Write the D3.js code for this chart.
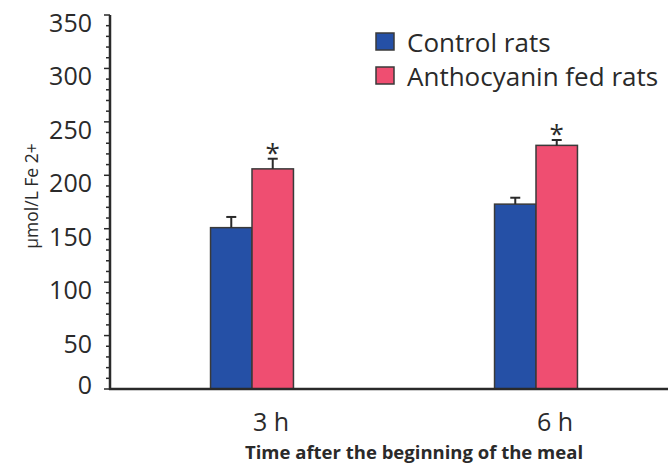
<!DOCTYPE html>
<html>
<head>
<meta charset="utf-8">
<script src="https://cdn.jsdelivr.net/npm/d3@7"></script>
<style>
  html, body { margin: 0; padding: 0; background: #fff; }
  svg { display: block; font-family: "Open Sans", sans-serif; }
</style>
</head>
<body>
<svg id="chart" width="668" height="465"></svg>
<script>
// ---- data ----
const categories = ["3 h", "6 h"];
const seriesNames = ["Control rats", "Anthocyanin fed rats"];
const controlValues = [151, 173];
const controlErrors = [10, 6];
const anthoValues = [206, 228];
const anthoErrors = [9.5, 5];
const yTicks = [0, 50, 100, 150, 200, 250, 300, 350];
const colors = ["#2550a6", "#ef4e71"];

const series = [
  { name: seriesNames[0], values: controlValues, errors: controlErrors, color: colors[0], star: [false, false] },
  { name: seriesNames[1], values: anthoValues, errors: anthoErrors, color: colors[1], star: [true, true] }
];

const svg = d3.select("#chart");
const ink = "#2a2a2a";

const y = d3.scaleLinear().domain([0, 350]).range([389, 15]);
const x0 = d3.scaleBand().domain(categories).range([110, 678]).paddingInner(0.708).paddingOuter(0.354);
const x1 = d3.scaleBand().domain(seriesNames).range([0, x0.bandwidth()]);

// bars
categories.forEach((cat, i) => {
  series.forEach(s => {
    const bx = x0(cat) + x1(s.name);
    const bw = x1.bandwidth();
    const v = s.values[i], e = s.errors[i];
    svg.append("rect")
      .attr("x", bx).attr("y", y(v))
      .attr("width", bw).attr("height", y(0) - y(v))
      .attr("fill", s.color).attr("stroke", "#3a3a3a").attr("stroke-width", 1.5);
    const cx = bx + bw / 2;
    svg.append("line").attr("x1", cx).attr("x2", cx).attr("y1", y(v)).attr("y2", y(v + e))
      .attr("stroke", ink).attr("stroke-width", 2);
    svg.append("line").attr("x1", cx - 5).attr("x2", cx + 5).attr("y1", y(v + e)).attr("y2", y(v + e))
      .attr("stroke", ink).attr("stroke-width", 2);
    if (s.star[i]) {
      svg.append("text").attr("x", cx).attr("y", y(v + e) + 3)
        .attr("text-anchor", "middle").attr("font-size", 26).attr("fill", ink).text("*");
    }
  });
});

// y axis
const minor = d3.range(0, 351, 10);
svg.append("g").selectAll("line").data(minor).join("line")
  .attr("x1", d => d % 50 === 0 ? 104 : 106).attr("x2", 110)
  .attr("y1", d => y(d)).attr("y2", d => y(d))
  .attr("stroke", ink).attr("stroke-width", 1.5);
svg.append("line").attr("x1", 110).attr("x2", 110).attr("y1", y(350)).attr("y2", y(0) + 1)
  .attr("stroke", ink).attr("stroke-width", 2.5);
svg.append("g").selectAll("text").data(yTicks).join("text")
  .attr("x", 92).attr("y", d => y(d) + (d === 0 ? 5 : 17))
  .attr("text-anchor", "end").attr("font-size", 25).attr("fill", ink)
  .text(d => d);

// x axis
svg.append("line").attr("x1", 109).attr("x2", 668).attr("y1", y(0)).attr("y2", y(0))
  .attr("stroke", ink).attr("stroke-width", 2.5);
svg.append("g").selectAll("text").data(categories).join("text")
  .attr("x", d => x0(d) + x0.bandwidth() / 2 + 1).attr("y", 431)
  .attr("text-anchor", "start").attr("font-size", 25).attr("fill", ink)
  .text(d => d);

// axis titles
svg.append("text").attr("x", 414).attr("y", 459).attr("text-anchor", "middle")
  .attr("font-size", 18.5).attr("font-weight", "bold").attr("fill", ink)
  .text("Time after the beginning of the meal");
svg.append("text").attr("transform", "translate(38,196) rotate(-90)")
  .attr("text-anchor", "middle").attr("font-size", 17.5).attr("fill", ink)
  .text("µmol/L Fe 2+");

// legend
const leg = svg.append("g");
series.forEach((s, i) => {
  leg.append("rect").attr("x", 376).attr("y", 33 + i * 34).attr("width", 18).attr("height", 17)
    .attr("fill", s.color).attr("stroke", "#3a3a3a").attr("stroke-width", 1.5);
  leg.append("text").attr("x", 407).attr("y", 52 + i * 34)
    .attr("font-size", 26).attr("fill", ink).text(s.name);
});
</script>
</body>
</html>
